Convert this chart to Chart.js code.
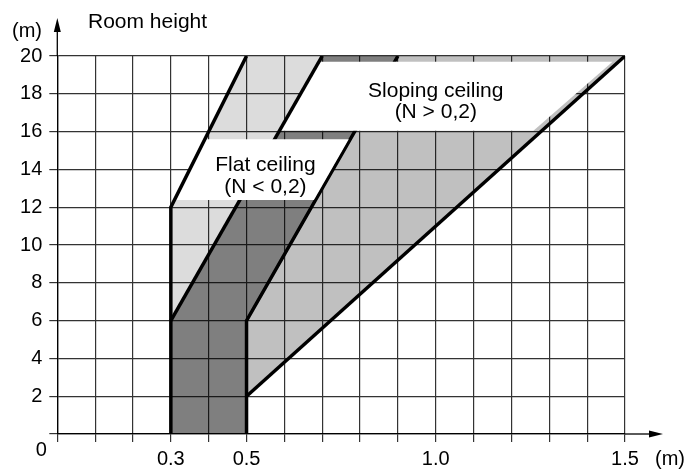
<!DOCTYPE html>
<html>
<head>
<meta charset="utf-8">
<script src="https://cdn.jsdelivr.net/npm/chart.js@4.4.1/dist/chart.umd.min.js"></script>
<style>
  html, body { margin: 0; padding: 0; background: #fff; }
  #wrap { width: 688px; height: 470px; }
</style>
</head>
<body>
<div id="wrap"><canvas id="room-chart"></canvas></div>
<script>
// Labelled ticks on the distance axis (m)
const xLabelled = [0.3, 0.5, 1.0, 1.5];

// Zones, points are [distance (m), room height (m)]
const lightZone = [[0.3, 6], [0.3, 12], [0.5, 20], [0.7, 20]];
const darkZone = [[0.3, 0], [0.5, 0], [0.5, 6], [0.9, 20], [0.7, 20], [0.3, 6]];
const slopeZone = [[0.5, 2], [0.5, 6], [0.9, 20], [1.5, 20]];

// Boundary lines
const leftEdge = [[0.3, 0], [0.3, 12], [0.5, 20]];
const middleEdge = [[0.3, 6], [0.7, 20]];
const rightEdge = [[0.5, 0], [0.5, 6], [0.9, 20]];
const slopeEdge = [[0.5, 2], [1.5, 20]];

// White label panels
const flatPanel = [[0.3095, 12.38], [0.678, 12.38], [0.770, 15.6], [0.39, 15.6]];
const slopePanel = [[0.587, 16.05], [1.258, 16.05], [1.467, 19.7], [0.691, 19.7]];

const FONT = { family: "'Liberation Sans', Arial, sans-serif", size: 20 };
const fontStr = `${FONT.size}px ${FONT.family}`;
const bigFont = `21px ${FONT.family}`;

function pts(list) {
    return list.map(([x, y]) => ({ x, y }));
}

// Filled polygon (fill inside the line)
function zone(list, color, order) {
    return {
        data: pts(list), showLine: true, fill: 'shape',
        backgroundColor: color, borderColor: 'rgba(0,0,0,0)', borderWidth: 0,
        pointRadius: 0, tension: 0, order
    };
}

// Thick boundary line
function edge(list, order) {
    return {
        data: pts(list), showLine: true, fill: false,
        borderColor: '#000', borderWidth: 3.5, borderJoinStyle: 'miter',
        pointRadius: 0, tension: 0, order
    };
}

// Text and axis arrows
const annotate = {
    id: 'annotate',
    afterDraw(chart) {
        const { ctx, chartArea: a, scales: { x, y } } = chart;
        ctx.save();
        ctx.strokeStyle = '#000';
        ctx.fillStyle = '#000';
        ctx.lineWidth = 1.3;

        // y arrow
        ctx.beginPath();
        ctx.moveTo(a.left, a.top);
        ctx.lineTo(a.left, a.top - 28);
        ctx.stroke();
        ctx.beginPath();
        ctx.moveTo(a.left, a.top - 38);
        ctx.lineTo(a.left - 3.5, a.top - 24);
        ctx.lineTo(a.left + 3.5, a.top - 24);
        ctx.closePath();
        ctx.fill();

        // x arrow
        ctx.beginPath();
        ctx.moveTo(a.right, a.bottom);
        ctx.lineTo(a.right + 28, a.bottom);
        ctx.stroke();
        ctx.beginPath();
        ctx.moveTo(a.right + 38, a.bottom);
        ctx.lineTo(a.right + 24, a.bottom - 3.5);
        ctx.lineTo(a.right + 24, a.bottom + 3.5);
        ctx.closePath();
        ctx.fill();

        ctx.textBaseline = 'middle';
        ctx.font = bigFont;
        ctx.textAlign = 'left';
        ctx.fillText('Room height', 88, 22);
        ctx.font = fontStr;
        ctx.textAlign = 'center';
        ctx.fillText('(m)', 27, 31);
        ctx.fillText('(m)', a.right + 45, a.bottom + 25);
        ctx.fillText('0', a.left - 16, a.bottom + 16);

        ctx.font = bigFont;
        const sx = x.getPixelForValue(1.0), sy = y.getPixelForValue(17.6);
        ctx.fillText('Sloping ceiling', sx, sy - 10.5);
        ctx.fillText('(N > 0,2)', sx, sy + 10.5);
        const fx = x.getPixelForValue(0.55), fy = y.getPixelForValue(13.65);
        ctx.fillText('Flat ceiling', fx, fy - 11);
        ctx.fillText('(N < 0,2)', fx, fy + 11);
        ctx.restore();
    }
};

const gridOpts = { color: '#333', lineWidth: 1.2, tickLength: 8, tickColor: '#333' };

new Chart(document.getElementById('room-chart'), {
    type: 'scatter',
    data: {
        datasets: [
            zone(lightZone, 'rgba(0,0,0,0.137)', 90),
            zone(darkZone, 'rgba(0,0,0,0.5)', 90),
            zone(slopeZone, 'rgba(0,0,0,0.247)', 90),
            edge(rightEdge, 80),
            zone(slopePanel, '#fff', 70),
            edge(middleEdge, 60),
            zone(flatPanel, '#fff', 50),
            edge(leftEdge, 40),
            edge(slopeEdge, 30)
        ]
    },
    options: {
        responsive: true,
        maintainAspectRatio: false,
        animation: false,
        events: [],
        layout: { padding: { top: 56, right: 63, left: 0, bottom: 0 } },
        plugins: { legend: { display: false }, tooltip: { enabled: false } },
        scales: {
            x: {
                type: 'linear', min: 0, max: 1.5,
                ticks: {
                    stepSize: 0.1, autoSkip: false, maxRotation: 0, padding: 5,
                    color: '#000', font: FONT,
                    callback: (v) => {
                        const hit = xLabelled.find(t => Math.abs(t - v) < 1e-6);
                        return hit === undefined ? '' : hit.toFixed(1);
                    }
                },
                grid: gridOpts,
                border: { color: '#000', width: 1.3 },
                afterFit: (s) => { s.height = 36; }
            },
            y: {
                type: 'linear', min: 0, max: 20,
                ticks: {
                    stepSize: 2, padding: 7, color: '#000', font: FONT,
                    callback: (v) => (v === 0 ? '' : v)
                },
                grid: gridOpts,
                border: { color: '#000', width: 1.3 },
                afterFit: (s) => { s.width = 57.3; }
            }
        }
    },
    plugins: [annotate]
});
</script>
</body>
</html>
